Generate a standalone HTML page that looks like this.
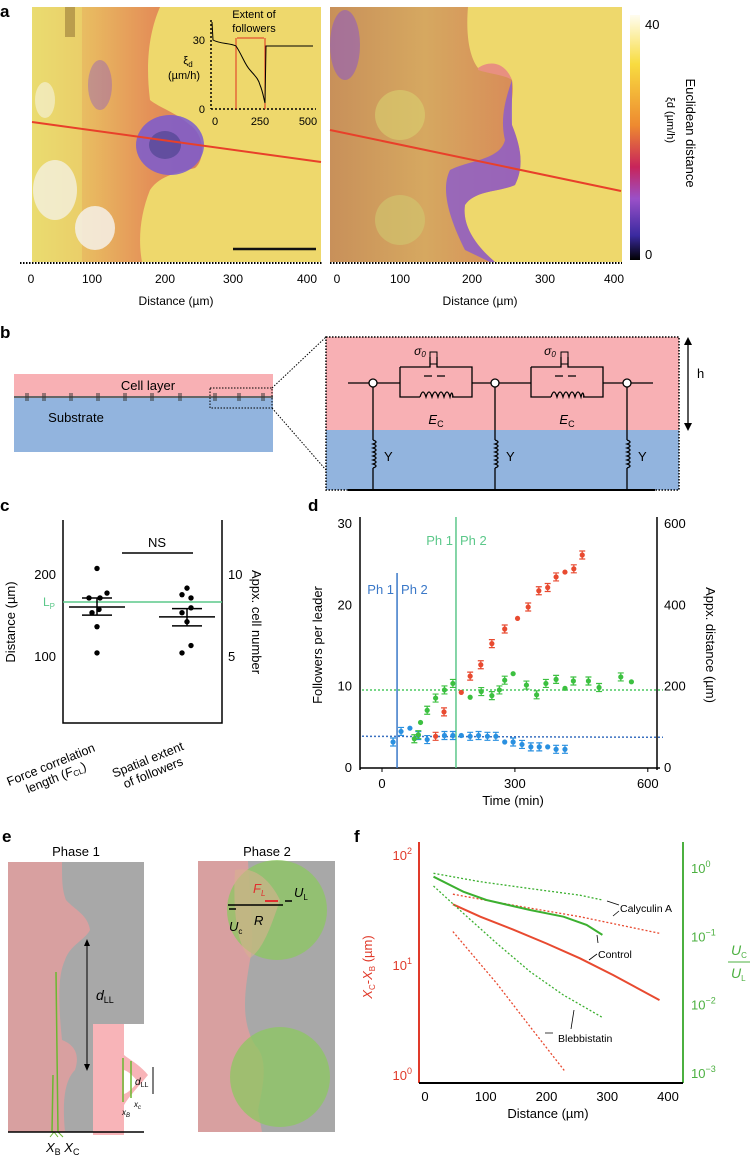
<!DOCTYPE html>
<html><head><meta charset="utf-8"><style>
body{margin:0;background:#fff;width:750px;height:1159px;overflow:hidden}
svg{font-family:"Liberation Sans",Arial,sans-serif;display:block}
</style></head><body>
<svg id="fig" width="750" height="1159" viewBox="0 0 750 1159">
<defs>
<linearGradient id="cbar" x1="0" y1="0" x2="0" y2="1">
<stop offset="0" stop-color="#fffdf0"/><stop offset="0.2" stop-color="#f8dc40"/><stop offset="0.45" stop-color="#ee8a30"/><stop offset="0.62" stop-color="#c8245a"/><stop offset="0.75" stop-color="#9a50c8"/><stop offset="0.9" stop-color="#3a2aa0"/><stop offset="1" stop-color="#000"/>
</linearGradient>
<linearGradient id="tisL" x1="0" y1="0" x2="1" y2="0">
<stop offset="0" stop-color="#e8d870"/><stop offset="0.35" stop-color="#e8b860"/><stop offset="0.7" stop-color="#e49058"/><stop offset="1" stop-color="#d8805a"/>
</linearGradient>
<linearGradient id="tisR" x1="0" y1="0" x2="1" y2="0">
<stop offset="0" stop-color="#c8905a"/><stop offset="0.5" stop-color="#d6a860"/><stop offset="1" stop-color="#d88a58"/>
</linearGradient>
</defs>

<!-- PANEL A -->
<g>
<text x="0" y="17" font-size="17" font-weight="bold">a</text>
<g>
<rect x="32" y="7" width="289" height="255" fill="#eed86c"/>
<path d="M32,7 L160,7 C150,30 145,60 150,100 C160,108 175,112 190,125 C205,135 205,160 195,168 C180,172 160,175 150,190 C140,215 138,240 142,262 L32,262 Z" fill="url(#tisL)"/>
<ellipse cx="170" cy="145" rx="34" ry="30" fill="#7a5ad0" opacity="0.85"/>
<ellipse cx="165" cy="145" rx="16" ry="14" fill="#3a3a80" opacity="0.5"/>
<ellipse cx="100" cy="85" rx="12" ry="25" fill="#8a58c8" opacity="0.4"/>
<rect x="32" y="7" width="50" height="255" fill="#ece070" opacity="0.5"/>
<ellipse cx="55" cy="190" rx="22" ry="30" fill="#f4f0e0" opacity="0.8"/>
<ellipse cx="95" cy="228" rx="20" ry="22" fill="#f4f0e8" opacity="0.85"/>
<ellipse cx="45" cy="100" rx="10" ry="18" fill="#f4f0d0" opacity="0.7"/>
<rect x="65" y="7" width="10" height="30" fill="#8a6a30" opacity="0.5"/>
<line x1="32" y1="122" x2="321" y2="162" stroke="#e8402a" stroke-width="2"/>
<line x1="233" y1="249" x2="316" y2="249" stroke="#111" stroke-width="2.5"/>
</g>
<g>
<line x1="211" y1="20" x2="211" y2="109" stroke="#000" stroke-width="1.5" stroke-dasharray="2,2"/>
<line x1="211" y1="109" x2="316" y2="109" stroke="#000" stroke-width="1.5" stroke-dasharray="2,2"/>
<line x1="236" y1="38" x2="236" y2="109" stroke="#e03020" stroke-width="1"/>
<line x1="265" y1="38" x2="265" y2="109" stroke="#e03020" stroke-width="1"/>
<line x1="237" y1="38" x2="264" y2="38" stroke="#e03020" stroke-width="1"/>
<path d="M212,22 L213,40 C220,44 230,43 236,46 C242,55 245,65 250,70 C255,76 258,78 260,85 C263,92 264,100 265,103 L266,46 L313,46" fill="none" stroke="#000" stroke-width="1"/>
<text x="254" y="18" font-size="11" text-anchor="middle">Extent of</text>
<text x="254" y="32" font-size="11" text-anchor="middle">followers</text>
<text x="205" y="44" font-size="11" text-anchor="end">30</text>
<text x="205" y="113" font-size="11" text-anchor="end">0</text>
<text x="188" y="64" font-size="11" text-anchor="middle">ξ<tspan font-size="8" dy="3">d</tspan></text>
<text x="184" y="79" font-size="11" text-anchor="middle">(µm/h)</text>
<text x="215" y="125" font-size="11" text-anchor="middle">0</text>
<text x="260" y="125" font-size="11" text-anchor="middle">250</text>
<text x="308" y="125" font-size="11" text-anchor="middle">500</text>
</g>
<g>
<rect x="330" y="7" width="292" height="255" fill="#eed86c"/>
<path d="M330,7 L468,7 C466,30 468,55 478,68 C490,72 505,70 512,80 C515,95 508,110 512,125 C520,145 525,165 515,185 C500,192 475,190 465,205 C462,225 475,245 495,262 L330,262 Z" fill="url(#tisR)"/>
<path d="M512,80 C505,100 500,120 505,140 C500,160 470,160 450,170 C440,190 450,220 465,250 L490,262 L495,262 C475,245 462,225 465,205 C475,190 500,192 515,185 C525,165 520,145 512,125 Z" fill="#8a5ad0" opacity="0.8"/>
<ellipse cx="345" cy="45" rx="15" ry="35" fill="#8a58c8" opacity="0.55"/>
<ellipse cx="400" cy="115" rx="25" ry="25" fill="#d8d070" opacity="0.6"/>
<ellipse cx="400" cy="220" rx="25" ry="25" fill="#d0c870" opacity="0.6"/>
<path d="M478,68 C490,60 505,62 512,80 C505,75 490,74 478,70Z" fill="#e89080"/>
<line x1="330" y1="130" x2="621" y2="191" stroke="#e8402a" stroke-width="2"/>
</g>
<line x1="20" y1="263" x2="322" y2="263" stroke="#000" stroke-width="2" stroke-dasharray="1.5,1.5"/>
<line x1="330" y1="263" x2="622" y2="263" stroke="#000" stroke-width="2" stroke-dasharray="1.5,1.5"/>
<g font-size="12" text-anchor="middle">
<text x="31" y="283">0</text><text x="92" y="283">100</text><text x="165" y="283">200</text><text x="233" y="283">300</text><text x="307" y="283">400</text>
<text x="337" y="283">0</text><text x="400" y="283">100</text><text x="472" y="283">200</text><text x="545" y="283">300</text><text x="614" y="283">400</text>
</g>
<text x="176" y="305" font-size="12" text-anchor="middle">Distance (µm)</text>
<text x="480" y="305" font-size="12" text-anchor="middle">Distance (µm)</text>
<rect x="630" y="15" width="10" height="245" fill="url(#cbar)"/>
<text x="645" y="29" font-size="13">40</text>
<text x="645" y="259" font-size="13">0</text>
<text transform="translate(686,133) rotate(90)" font-size="13" text-anchor="middle">Euclidean distance</text>
<text transform="translate(667,120) rotate(90)" font-size="11" text-anchor="middle">ξd (µm/h)</text>
</g>

<!-- PANEL B -->
<g>
<text x="0" y="338" font-size="17" font-weight="bold">b</text>
<rect x="14" y="374" width="259" height="23" fill="#f8b0b4"/>
<rect x="14" y="397" width="259" height="55" fill="#92b4de"/>
<line x1="14" y1="397" x2="273" y2="397" stroke="#666" stroke-width="2"/>
<g stroke="#333" stroke-width="1" id="bticks"></g>
<text x="148" y="390" font-size="13" text-anchor="middle">Cell layer</text>
<text x="76" y="422" font-size="13" text-anchor="middle">Substrate</text>
<rect x="210" y="388" width="62" height="20" fill="none" stroke="#000" stroke-dasharray="1.5,1.5"/>
<line x1="272" y1="388" x2="326" y2="337" stroke="#000" stroke-dasharray="1.5,1.5"/>
<line x1="272" y1="408" x2="326" y2="470" stroke="#000" stroke-dasharray="1.5,1.5"/>
<rect x="326" y="337" width="353" height="93" fill="#f8b0b4"/>
<rect x="326" y="430" width="353" height="60" fill="#92b4de"/>
<rect x="326" y="337" width="353" height="153" fill="none" stroke="#000" stroke-width="1.5" stroke-dasharray="1.5,1.5"/>
<g fill="none" stroke="#000" stroke-width="1.3">
<line x1="348" y1="383" x2="369" y2="383"/><line x1="377" y1="383" x2="400" y2="383"/>
<line x1="472" y1="383" x2="491" y2="383"/><line x1="499" y1="383" x2="531" y2="383"/>
<line x1="603" y1="383" x2="623" y2="383"/><line x1="631" y1="383" x2="653" y2="383"/>
<circle cx="373" cy="383" r="4" fill="#fff"/><circle cx="495" cy="383" r="4" fill="#fff"/><circle cx="627" cy="383" r="4" fill="#fff"/>
<path d="M400,367 H430 V357 M437,357 V367 H472 V397 H452 M420,397 H400 V367"/>
<path d="M420,397 q3,-10 6,0 q3,-10 6,0 q3,-10 6,0 q3,-10 6,0 q3,-10 6,0 q2,-8 3,0"/>
<rect x="430" y="352" width="7" height="12" stroke-width="1"/>
<path d="M531,367 H561 V357 M568,357 V367 H603 V397 H583 M551,397 H531 V367"/>
<path d="M551,397 q3,-10 6,0 q3,-10 6,0 q3,-10 6,0 q3,-10 6,0 q3,-10 6,0 q2,-8 3,0"/>
<rect x="561" y="352" width="7" height="12" stroke-width="1"/>
<path d="M373,387 V440 M373,468 V490 M495,387 V440 M495,468 V490 M627,387 V440 M627,468 V490"/>
<path d="M373,440 q6,2 0,4 q6,2 0,4 q6,2 0,4 q6,2 0,4 q6,2 0,4 q6,2 0,4 q6,2 0,4"/>
<path d="M495,440 q6,2 0,4 q6,2 0,4 q6,2 0,4 q6,2 0,4 q6,2 0,4 q6,2 0,4 q6,2 0,4"/>
<path d="M627,440 q6,2 0,4 q6,2 0,4 q6,2 0,4 q6,2 0,4 q6,2 0,4 q6,2 0,4 q6,2 0,4"/>
<line x1="348" y1="490" x2="655" y2="490" stroke-width="2"/>
<path d="M424,376 h8 M445,376 h-8 M555,376 h8 M576,376 h-8"/>
</g>
<text x="420" y="355" font-size="12" font-style="italic" text-anchor="middle">σ<tspan font-size="8" dy="2">0</tspan></text>
<text x="550" y="355" font-size="12" font-style="italic" text-anchor="middle">σ<tspan font-size="8" dy="2">0</tspan></text>
<text x="436" y="424" font-size="13" text-anchor="middle"><tspan font-style="italic">E</tspan><tspan font-size="9" dy="3">C</tspan></text>
<text x="567" y="424" font-size="13" text-anchor="middle"><tspan font-style="italic">E</tspan><tspan font-size="9" dy="3">C</tspan></text>
<text x="384" y="461" font-size="13">Y</text><text x="506" y="461" font-size="13">Y</text><text x="638" y="461" font-size="13">Y</text>
<line x1="688" y1="340" x2="688" y2="428" stroke="#000" stroke-width="1.3"/>
<path d="M684,345 L688,337 L692,345 Z M684,423 L688,431 L692,423 Z" fill="#000"/>
<text x="697" y="378" font-size="13">h</text>
</g>

<!-- PANEL C -->
<g id="pc">
<text x="0" y="511" font-size="17" font-weight="bold">c</text>
<path d="M63,520 V723 H222 V520" fill="none" stroke="#000" stroke-width="1.5"/>
<line x1="122" y1="553" x2="193" y2="553" stroke="#000" stroke-width="1.5"/>
<text x="157" y="547" font-size="13" text-anchor="middle">NS</text>
<text transform="translate(15,622) rotate(-90)" font-size="13" text-anchor="middle">Distance (µm)</text>
<text transform="translate(252,622) rotate(90)" font-size="13" text-anchor="middle">Appx. cell number</text>
<text transform="translate(55,775) rotate(-22)" font-size="12.5" text-anchor="middle"><tspan x="0" dy="-7">Force correlation</tspan><tspan x="0" dy="14">length (<tspan font-style="italic">F</tspan><tspan font-size="8" dy="2">CL</tspan><tspan dy="-2">)</tspan></tspan></text>
<text transform="translate(152,770) rotate(-22)" font-size="12.5" text-anchor="middle"><tspan x="0" dy="-7">Spatial extent</tspan><tspan x="0" dy="14">of followers</tspan></text>
</g>

<!-- PANEL D -->
<g id="pd">
<text x="308" y="511" font-size="17" font-weight="bold">d</text>
<line x1="360" y1="517" x2="360" y2="770" stroke="#000" stroke-width="1.5"/>
<line x1="657" y1="517" x2="657" y2="770" stroke="#000" stroke-width="1.5"/>
<line x1="360" y1="768" x2="660" y2="768" stroke="#000" stroke-width="1.5"/>
<text transform="translate(322,645) rotate(-90)" font-size="13" text-anchor="middle">Followers per leader</text>
<text transform="translate(706,645) rotate(90)" font-size="13" text-anchor="middle">Appx. distance (µm)</text>
<text x="513" y="805" font-size="13" text-anchor="middle">Time (min)</text>
</g>

<!-- PANEL E -->
<g>
<text x="2" y="842" font-size="17" font-weight="bold">e</text>
<text x="76" y="856" font-size="13" text-anchor="middle">Phase 1</text>
<text x="267" y="856" font-size="13" text-anchor="middle">Phase 2</text>
<g>
<rect x="8" y="862" width="136" height="162" fill="#a8a8a8"/>
<rect x="8" y="1024" width="85" height="108" fill="#a8a8a8"/>
<path d="M8,862 L62,862 C62,880 62,890 66,900 C75,910 88,915 90,930 C85,940 70,945 65,960 C58,975 58,1000 62,1040 C75,1045 80,1055 75,1070 C65,1080 62,1100 65,1132 L8,1132 Z" fill="#d8a0a0"/>
<rect x="93" y="1024" width="31" height="111" fill="#f8b4b8"/>
<path d="M124,1055 C130,1060 140,1065 148,1075 C140,1085 130,1095 124,1105 Z" fill="#f8b4b8"/>
<path d="M124,1070 C130,1072 135,1078 138,1082 C134,1086 130,1092 124,1094Z" fill="#fff"/>
<line x1="123" y1="1058" x2="123" y2="1102" stroke="#6ab830" stroke-width="1.5"/>
<line x1="131" y1="1061" x2="131" y2="1098" stroke="#6ab830" stroke-width="1.5"/>
<line x1="56" y1="972" x2="58" y2="1132" stroke="#6ab830" stroke-width="1.5"/>
<line x1="53" y1="1075" x2="52" y2="1132" stroke="#6ab830" stroke-width="1.5"/>
<path d="M50,1137 L54,1132 L58,1137 M58,1132 L63,1137" stroke="#6ab830" fill="none"/>
<line x1="8" y1="1132" x2="144" y2="1132" stroke="#000" stroke-width="1.5"/>
<line x1="87" y1="942" x2="87" y2="1068" stroke="#000"/>
<path d="M84,946 L87,939 L90,946 Z M84,1064 L87,1071 L90,1064 Z" fill="#000"/>
<text x="96" y="1000" font-size="14" font-style="italic">d<tspan font-size="9" dy="3" font-style="normal">LL</tspan></text>
<line x1="153" y1="1067" x2="153" y2="1094" stroke="#000"/>
<text x="135" y="1085" font-size="10" font-style="italic">d<tspan font-size="7" dy="2" font-style="normal">LL</tspan></text>
<text x="122" y="1115" font-size="8" font-style="italic">x<tspan font-size="6" dy="2">B</tspan></text>
<text x="134" y="1107" font-size="8" font-style="italic">x<tspan font-size="6" dy="2">c</tspan></text>
<text x="46" y="1152" font-size="13" font-style="italic">X<tspan font-size="9" dy="3" font-style="normal">B</tspan><tspan dy="-3"> X</tspan><tspan font-size="9" dy="3" font-style="normal">C</tspan></text>
</g>
<g>
<rect x="198" y="861" width="137" height="271" fill="#a8a8a8"/>
<path d="M198,861 L248,861 C250,900 255,940 250,960 C245,990 240,1020 255,1045 C270,1060 262,1090 258,1110 L262,1132 L198,1132 Z" fill="#d8a0a0"/>
<circle cx="277" cy="910" r="50" fill="#8cc860" opacity="0.75"/>
<circle cx="280" cy="1077" r="50" fill="#8cc860" opacity="0.75"/>
<path d="M235,870 C255,866 270,880 280,900 C270,930 262,950 250,958 C240,950 232,920 235,870Z" fill="#d8b090" opacity="0.6"/>
<line x1="228" y1="905" x2="283" y2="905" stroke="#000" stroke-width="1.5"/>
<line x1="278" y1="901" x2="265" y2="901" stroke="#e03030" stroke-width="2"/>
<text x="253" y="893" font-size="13" font-style="italic" fill="#e03030">F<tspan font-size="8" dy="3">L</tspan></text>
<text x="294" y="897" font-size="13" font-style="italic">U<tspan font-size="8" dy="3" font-style="normal">L</tspan></text>
<text x="254" y="925" font-size="13" font-style="italic">R</text>
<text x="229" y="931" font-size="13" font-style="italic">U<tspan font-size="8" dy="3" font-style="normal">c</tspan></text>
<path d="M292,901 h-7 M229,909 h7" stroke="#000" stroke-width="1.5"/>
</g>
</g>

<!-- PANEL F -->
<g id="pf">
<text x="354" y="842" font-size="17" font-weight="bold">f</text>
<line x1="419" y1="842" x2="419" y2="1083" stroke="#e03a2a" stroke-width="2"/>
<line x1="683" y1="842" x2="683" y2="1083" stroke="#4cb040" stroke-width="2"/>
<line x1="419" y1="1083" x2="683" y2="1083" stroke="#000" stroke-width="2"/>
<text transform="translate(372,967) rotate(-90)" font-size="13" fill="#e03a2a" text-anchor="middle"><tspan font-style="italic">X</tspan><tspan font-size="8" dy="3">C</tspan><tspan dy="-3">-</tspan><tspan font-style="italic">X</tspan><tspan font-size="8" dy="3">B</tspan><tspan dy="-3"> (µm)</tspan></text>
<g fill="#4cb040" font-size="14" font-style="italic">
<text x="731" y="955">U<tspan font-size="8" dy="3" font-style="normal">C</tspan></text>
<line x1="728" y1="962" x2="750" y2="962" stroke="#4cb040"/>
<text x="731" y="978">U<tspan font-size="8" dy="3" font-style="normal">L</tspan></text>
</g>
<text x="548" y="1118" font-size="13" text-anchor="middle">Distance (µm)</text>
<g stroke="#000" stroke-width="0.8" fill="none">
<path d="M607,901 L619,905 M613,916 L619,911 M597,935 L598,943 M589,960 L597,954 M574,1010 L571,1029 M545,1033 L553,1033"/>
</g>
<text x="620" y="912" font-size="10.5">Calyculin A</text>
<text x="598" y="958" font-size="10.5">Control</text>
<text x="558" y="1042" font-size="10.5">Blebbistatin</text>
</g>
</svg>
<script>
var NS="http://www.w3.org/2000/svg";
/* panel c data */
var cCategories=["Force correlation length","Spatial extent of followers"];
var cGroup1=[208,172,172,178,158,154,137,105];
var cGroup2=[184,176,172,160,154,143,114,105];
var cMeans=[161,149];
var cErrHi=[172,159];
var cErrLo=[151,138];
var cLp=167;
var cYTicks=[100,200];
var cY2Ticks=["5","10"];
/* panel d data */
var dTimesRed=[121,140,179,199,223,248,277,306,330,354,374,393,413,433,452];
var dRed=[3.9,6.9,9.3,11.3,12.7,15.3,17.1,18.4,19.8,21.8,22.2,23.5,24.1,24.5,26.2];
var dTimesGreen=[73,82,87,102,121,141,160,199,224,248,265,277,296,326,349,370,393,413,432,466,490,539,563];
var dGreen=[3.6,4.1,5.6,7.1,8.6,9.6,10.4,8.7,9.4,8.9,9.6,10.8,11.6,10.2,9.0,10.4,10.9,9.8,10.7,10.7,9.9,11.2,10.6];
var dTimesBlue=[25,43,63,82,102,141,160,179,199,218,238,257,277,296,316,336,355,374,393,413];
var dBlue=[3.2,4.5,4.9,4.0,3.5,4.0,4.0,4.0,3.9,4.0,3.9,3.9,3.2,3.2,2.9,2.6,2.6,2.6,2.3,2.3];
var dGreenMean=9.6, dBlueMean=3.9;
var dPhaseBlue=34, dPhaseGreen=167;
var dYTicks=[0,10,20,30];
var dY2Labels=["0","200","400","600"];
var dXTicks=[0,300,600];
/* panel f data */
var fX=[46,91,145,200,255,310,386];
var fRedControl=[35.6,27.5,21,15.7,11.5,8.1,4.8];
var fXRedCal=[46,145,255,386];
var fRedCal=[44,35,27.5,19.4];
var fXRedBleb=[46,118,173,231];
var fRedBleb=[20.1,6.8,2.75,1.07];
var fXGreenCtl=[14,63,101,173,228,266,292];
var fGreenControl=[0.746,0.45,0.34,0.243,0.194,0.147,0.105];
var fXGreenCal=[14,91,173,255,292];
var fGreenCal=[0.836,0.63,0.50,0.40,0.34];
var fXGreenBleb=[14,63,118,173,228,292];
var fGreenBleb=[0.545,0.217,0.079,0.0304,0.0138,0.0065];
var fXTicks=[0,100,200,300,400];
var fYExp=[2,1,0];
var fY2Exp=[0,-1,-2,-3];

function mk(tag,attrs,parent){var e=document.createElementNS(NS,tag);for(var k in attrs)e.setAttribute(k,attrs[k]);parent.appendChild(e);return e;}
function txt(parent,x,y,s,size,anchor,fill){var t=mk("text",{x:x,y:y,"font-size":size,"text-anchor":anchor||"middle",fill:fill||"#000"},parent);t.textContent=s;return t;}

/* panel b ticks */
var bt=document.getElementById("bticks");
[26,43,70,97,124,151,179,214,238,262].forEach(function(x){
var l=mk("path",{d:"M"+x+",393 v8 M"+(x+2)+",393 v8"},bt);


});

/* panel c */
var pc=document.getElementById("pc");
function cy(v){return 575+(200-v)*0.82;}
var cX=[97,187];
cYTicks.forEach(function(v,i){
var t=txt(pc,56,cy(v)+4,String(v),13,"end");


var t2=txt(pc,228,cy(v)+4,cY2Ticks[i],13,"start");


});
var lp=mk("line",{x1:63,x2:222,y1:cy(cLp),y2:cy(cLp),stroke:"#5cc88a","stroke-width":1.5},pc);


var lpt=txt(pc,55,cy(cLp)+4,"L",12,"end","#5cc88a");


var lps=mk("tspan",{"font-size":8,dy:3},lpt);lps.textContent="P";
var offs=[[0,-8,3,10,2,-5,0,0],[0,-5,4,4,-5,0,4,-5]];
[cGroup1,cGroup2].forEach(function(g,gi){
g.forEach(function(v,i){
var d=mk("circle",{cx:cX[gi]+offs[gi][i],cy:cy(v),r:2.7,fill:"#000"},pc);


});
var m=mk("line",{x1:cX[gi]-28,x2:cX[gi]+28,y1:cy(cMeans[gi]),y2:cy(cMeans[gi]),stroke:"#000","stroke-width":1.5},pc);


var e=mk("path",{d:"M"+cX[gi]+","+cy(cErrHi[gi])+"V"+cy(cErrLo[gi])+"M"+(cX[gi]-15)+","+cy(cErrHi[gi])+"h30M"+(cX[gi]-15)+","+cy(cErrLo[gi])+"h30",stroke:"#000","stroke-width":1.5,fill:"none"},pc);


});

/* panel d */
var pd=document.getElementById("pd");
function dx(t){return 382+t*0.443;}
function dy(v){return 768-v*8.13;}
dYTicks.forEach(function(v,i){
var t=txt(pd,352,dy(v)+4,String(v),13,"end");


var t2=txt(pd,664,dy(v)+4,dY2Labels[i],13,"start");


});
dXTicks.forEach(function(v){
var t=txt(pd,dx(v),788,String(v),13);


var tk=mk("line",{x1:dx(v),x2:dx(v),y1:768,y2:772,stroke:"#000"},pd);


});
var gm=mk("line",{x1:362,x2:663,y1:dy(dGreenMean),y2:dy(dGreenMean),stroke:"#4cc860","stroke-width":1.5,"stroke-dasharray":"2,2"},pd);


var bm=mk("line",{x1:362,x2:663,y1:dy(dBlueMean),y2:dy(dBlueMean)+1,stroke:"#3a70c0","stroke-width":1.5,"stroke-dasharray":"2,2"},pd);


var pb=mk("line",{x1:dx(dPhaseBlue),x2:dx(dPhaseBlue),y1:573,y2:768,stroke:"#3a78c8","stroke-width":1.5},pd);


var pg=mk("line",{x1:dx(dPhaseGreen),x2:dx(dPhaseGreen),y1:517,y2:768,stroke:"#5cc88a","stroke-width":1.5},pd);


var lb1=txt(pd,dx(dPhaseBlue)-3,594,"Ph 1",13,"end","#3a78c8");


var lb2=txt(pd,dx(dPhaseBlue)+4,594,"Ph 2",13,"start","#3a78c8");


var lg1=txt(pd,dx(dPhaseGreen)-3,545,"Ph 1",13,"end","#5cc88a");


var lg2=txt(pd,dx(dPhaseGreen)+4,545,"Ph 2",13,"start","#5cc88a");


function series(ts,vs,col,name){
ts.forEach(function(t,i){
var x=dx(t),y=dy(vs[i]);
if(i%5!==2){
var eb=mk("path",{d:"M"+x+","+(y-4)+"V"+(y+4)+"M"+(x-3)+","+(y-4)+"h6M"+(x-3)+","+(y+4)+"h6",stroke:col,"stroke-width":1.2,fill:"none"},pd);


}
var c=mk("circle",{cx:x,cy:y,r:2.6,fill:col},pd);


});
}
series(dTimesBlue,dBlue,"#2a90e0","blue");
series(dTimesGreen,dGreen,"#3cc040","green");
series(dTimesRed,dRed,"#e84a30","red");

/* panel f */
var pf=document.getElementById("pf");
function fx(d){return 425+d*0.6075;}
function fyL(v){return 1075-Math.log10(v)*110;}
function fyR2(v){return 868+(-Math.log10(v))*68.33;}
fXTicks.forEach(function(v){
var t=txt(pf,fx(v),1101,String(v),13);


});
fYExp.forEach(function(e){
var t=txt(pf,412,fyL(Math.pow(10,e))+5,"10",13,"end","#e03a2a");


var s=mk("tspan",{"font-size":9,dy:-6},t);s.textContent=String(e);
});
fY2Exp.forEach(function(e){
var t=txt(pf,691,fyR2(Math.pow(10,e))+5,"10",13,"start","#4cb040");


var s=mk("tspan",{"font-size":9,dy:-6},t);s.textContent=(e<0?"−"+(-e):String(e));
});
function fline(xs,vs,yf,col,dash,name){
var d=xs.map(function(x,i){return (i?"L":"M")+fx(x).toFixed(1)+","+yf(vs[i]).toFixed(1);}).join(" ");
var p=mk("path",{d:d,fill:"none",stroke:col,"stroke-width":dash?1.3:2,"stroke-dasharray":dash?"2,2":"none"},pf);


}
fline(fX,fRedControl,fyL,"#e84a30",false,"red-control-line");
fline(fXRedCal,fRedCal,fyL,"#e84a30",true,"red-calyculin-line");
fline(fXRedBleb,fRedBleb,fyL,"#e84a30",true,"red-blebbistatin-line");
fline(fXGreenCtl,fGreenControl,fyR2,"#3cb030",false,"green-control-line");
fline(fXGreenCal,fGreenCal,fyR2,"#3cb030",true,"green-calyculin-line");
fline(fXGreenBleb,fGreenBleb,fyR2,"#3cb030",true,"green-blebbistatin-line");
</script>
</body></html>
